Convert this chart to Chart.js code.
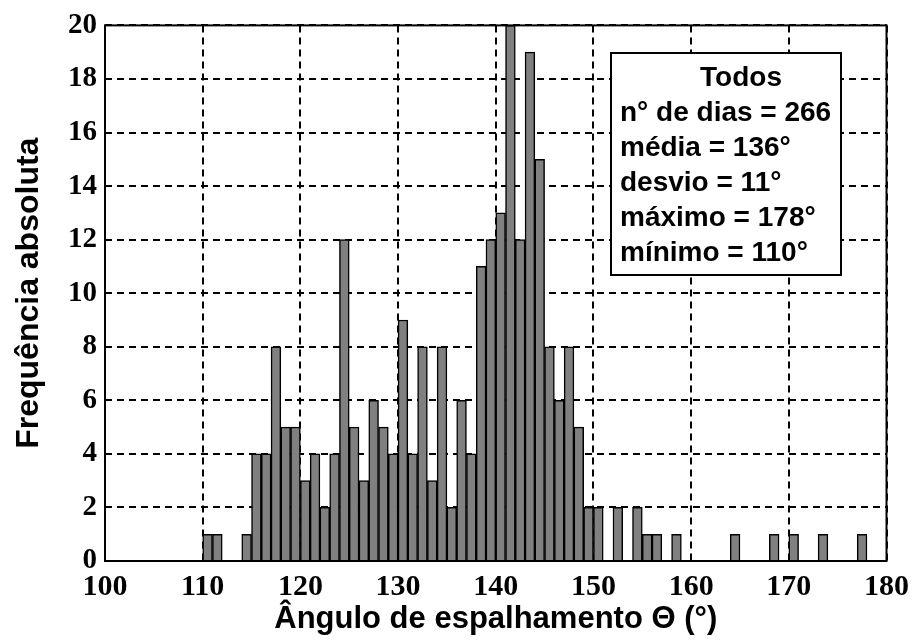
<!DOCTYPE html>
<html>
<head>
<meta charset="utf-8">
<script src="https://cdn.jsdelivr.net/npm/chart.js@4"></script>
<style>
  html, body { margin: 0; padding: 0; background: #fff; }
</style>
</head>
<body>
<canvas id="hist-chart" width="917" height="641"></canvas>
<script>
// histogram bins (start of each 1° bin) and how many days fell in it
const angles = [110, 111, 114, 115, 116, 117, 118, 119, 120, 121, 122, 123, 124, 125, 126, 127, 128, 129,
  130, 131, 132, 133, 134, 135, 136, 137, 138, 139, 140, 141, 142, 143, 144, 145, 146, 147, 148, 149,
  150, 152, 154, 155, 156, 158, 164, 168, 170, 173, 177];
const counts = [1, 1, 1, 4, 4, 8, 5, 5, 3, 4, 2, 4, 12, 5, 3, 6, 5, 4,
  9, 4, 8, 3, 8, 2, 6, 4, 11, 12, 13, 20, 12, 19, 15, 8, 6, 8, 5, 2,
  2, 2, 2, 1, 1, 1, 1, 1, 1, 1, 1];
const xTicks = [100, 110, 120, 130, 140, 150, 160, 170, 180];
const yTicks = [0, 2, 4, 6, 8, 10, 12, 14, 16, 18, 20];
const boxTitle = 'Todos';
const boxLines = ['n° de dias = 266', 'média = 136°', 'desvio = 11°', 'máximo = 178°', 'mínimo = 110°'];

const histCanvas = document.getElementById('hist-chart');

// full black frame round the plot area
const frame = {
  id: 'frame',
  afterDatasetsDraw(chart) {
    const { ctx, chartArea: a } = chart;
    ctx.save();
    ctx.strokeStyle = '#000';
    ctx.lineWidth = 2;
    ctx.strokeRect(a.left, a.top, a.right - a.left, a.bottom - a.top);
    ctx.restore();
  }
};

// the stats box in the upper right
const statsBox = {
  id: 'statsBox',
  afterDraw(chart) {
    const ctx = chart.ctx;
    const left = 611, top = 53, w = 230, h = 222;
    ctx.save();
    ctx.fillStyle = '#fff';
    ctx.fillRect(left, top, w, h);
    ctx.strokeStyle = '#000';
    ctx.lineWidth = 2;
    ctx.strokeRect(left, top, w, h);
    ctx.fillStyle = '#000';
    ctx.font = 'bold 28px "Liberation Sans", Arial, sans-serif';
    ctx.textBaseline = 'alphabetic';
    ctx.textAlign = 'center';
    ctx.fillText(boxTitle, 741, 86);
    ctx.textAlign = 'left';
    boxLines.forEach((t, i) => ctx.fillText(t, 620, 121 + i * 35));
    ctx.restore();
  }
};

new Chart(histCanvas, {
  type: 'bar',
  data: {
    datasets: [{
      data: angles.map((a, i) => ({ x: a + 0.5, y: counts[i] })),
      backgroundColor: '#808080',
      borderColor: '#000',
      borderWidth: 1.5,
      barPercentage: 1,
      categoryPercentage: 1
    }]
  },
  options: {
    responsive: false,
    animation: false,
    layout: { padding: { top: 25, right: 25, left: 0, bottom: 0 } },
    plugins: {
      legend: { display: false },
      tooltip: { enabled: false }
    },
    scales: {
      x: {
        type: 'linear',
        min: 100,
        max: 180,
        offset: false,
        afterBuildTicks: s => { s.ticks = xTicks.map(v => ({ value: v })); },
        afterFit: s => { s.height = 80; },
        grid: { color: '#000', lineWidth: 2, drawTicks: false, offset: false },
        border: { display: false, dash: [7, 5] },
        ticks: {
          color: '#000',
          padding: 8,
          maxRotation: 0,
          autoSkip: false,
          font: { family: '"Liberation Serif", serif', weight: 'bold', size: 30 }
        },
        title: {
          display: true,
          text: 'Ângulo de espalhamento Θ (°)',
          color: '#000',
          font: { family: '"Liberation Sans", Arial, sans-serif', weight: 'bold', size: 31 },
          padding: { top: 0, bottom: 3 }
        }
      },
      y: {
        min: 0,
        max: 20,
        afterBuildTicks: s => { s.ticks = yTicks.map(v => ({ value: v })); },
        afterFit: s => { s.width = 105; },
        grid: { color: '#000', lineWidth: 2, drawTicks: false },
        border: { display: false, dash: [7, 5] },
        ticks: {
          color: '#000',
          padding: 8,
          font: { family: '"Liberation Serif", serif', weight: 'bold', size: 29 }
        },
        title: {
          display: true,
          text: 'Frequência absoluta',
          color: '#000',
          font: { family: '"Liberation Sans", Arial, sans-serif', weight: 'bold', size: 32 },
          padding: { top: 10, bottom: 0 }
        }
      }
    }
  },
  plugins: [frame, statsBox]
});
</script>
</body>
</html>
